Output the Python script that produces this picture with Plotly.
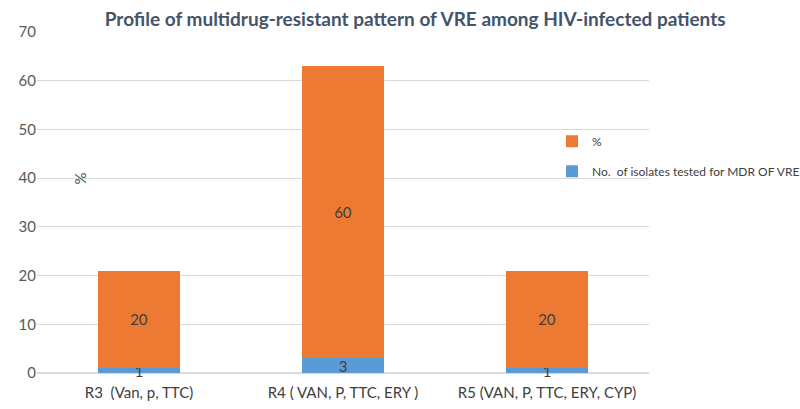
import plotly.graph_objects as go

categories = ["R3  (Van, p, TTC)", "R4 ( VAN, P, TTC, ERY )", "R5 (VAN, P, TTC, ERY, CYP)"]
isolates = [1, 3, 1]
percent = [20, 60, 20]
y_ticks = [0, 10, 20, 30, 40, 50, 60, 70]

FONT = "Lato"
TXT = "#404040"

fig = go.Figure()
fig.add_trace(go.Bar(
    x=categories, y=isolates, name="No.  of isolates tested for MDR OF VRE",
    marker=dict(color="#5B9BD5", line=dict(width=0)),
    text=[str(v) for v in isolates], textposition="inside", insidetextanchor="middle",
    constraintext="none", cliponaxis=False, textangle=0,
    textfont=dict(family=FONT, size=15, color=TXT),
    legendgroup="b", legendrank=2,
))
fig.add_trace(go.Bar(
    x=categories, y=percent, name="%",
    marker=dict(color="#EC7A32", line=dict(width=0)),
    text=[str(v) for v in percent], textposition="inside", insidetextanchor="middle",
    constraintext="none", cliponaxis=False, textangle=0,
    textfont=dict(family=FONT, size=15, color=TXT),
    legendgroup="a", legendrank=1,
))

fig.update_layout(
    width=800, height=409,
    barmode="stack", bargap=0.6,
    paper_bgcolor="white", plot_bgcolor="white",
    margin=dict(l=37, r=151, t=32, b=36, autoexpand=False),
    font=dict(family=FONT, size=13, color="#595959"),
    title=dict(text="<b>Profile of multidrug-resistant pattern of VRE among HIV-infected patients</b>",
               x=0.519, xanchor="center", y=0.952, yanchor="middle",
               font=dict(family=FONT, size=19, color="#44546A")),
    legend=dict(xref="container", yref="container", x=0.69, xanchor="left", y=0.69, yanchor="top",
                traceorder="grouped", tracegroupgap=11,
                font=dict(family=FONT, size=12, color=TXT),
                bgcolor="rgba(0,0,0,0)", itemwidth=30),
    xaxis=dict(showline=False, ticks="", ticklabelstandoff=9,
               tickfont=dict(family=FONT, size=15, color=TXT)),
    yaxis=dict(range=[0, 70], tickvals=y_ticks, showgrid=True, gridcolor="#D9D9D9",
               zeroline=True, zerolinecolor="#D9D9D9", showline=False, ticks="",
               tickfont=dict(family=FONT, size=15, color="#595959")),
    annotations=[dict(text="%", xref="paper", yref="paper", x=0.054, y=0.57,
                      showarrow=False, textangle=90,
                      font=dict(family=FONT, size=15, color="#44546A"))],
)

fig.write_html("out.html")
